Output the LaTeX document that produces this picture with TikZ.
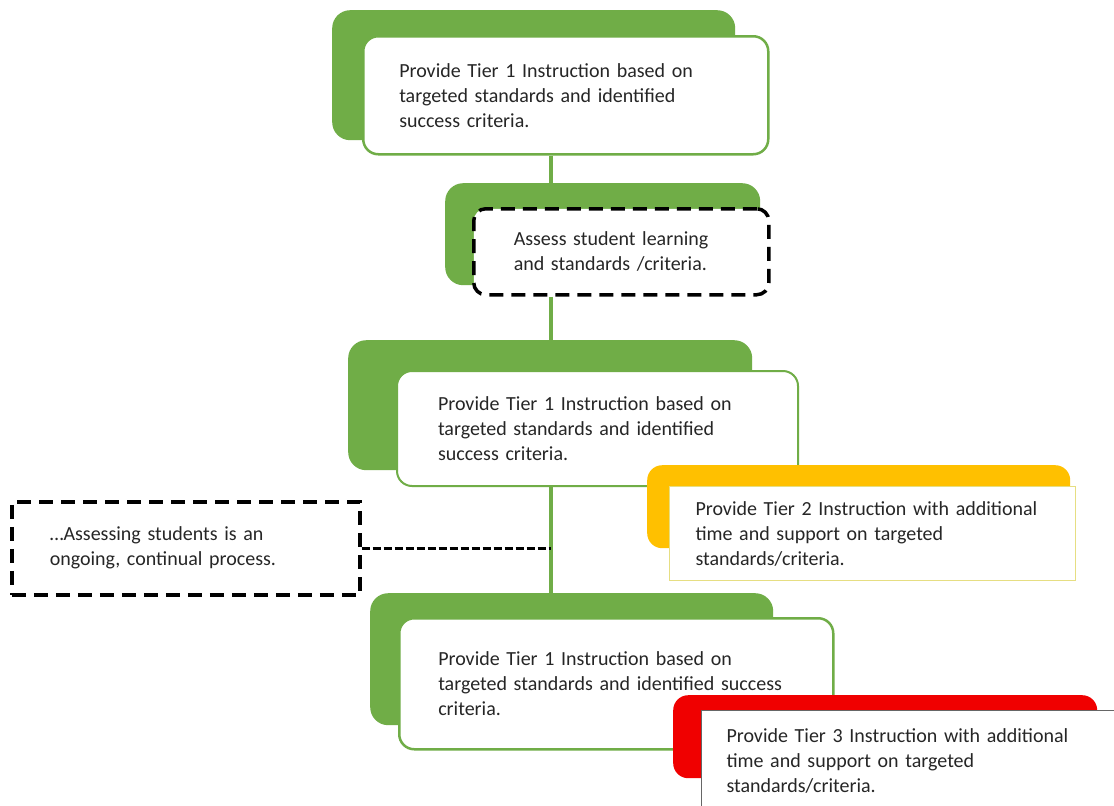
\documentclass[tikz,border=0pt]{standalone}
\usepackage{fontspec}
\setmainfont{Carlito}
\usetikzlibrary{backgrounds}
\definecolor{tgreen}{RGB}{112,173,71}
\definecolor{tyellow}{RGB}{255,192,0}
\definecolor{tred}{RGB}{240,0,0}
\definecolor{tpale}{RGB}{230,222,130}
\def\tieronetext{Provide Tier 1 Instruction based on\\targeted standards and identified\\success criteria.}

\begin{document}
\begin{tikzpicture}[x=1pt,y=-1pt,
    back/.style={anchor=north west,inner sep=0pt,rounded corners=18pt,fill=tgreen},
    front/.style={anchor=north west,inner ysep=0pt,fill=white,align=left,
      font=\fontsize{20}{25}\selectfont,text=black!85},
    tierone/.style={front,draw=tgreen,line width=2.5pt,rounded corners=15pt},
    dashbox/.style={front,draw=black,line width=3.5pt,dash pattern=on 14pt off 8pt},
    spine/.style={draw=tgreen,line width=4pt}]
  \useasboundingbox (0,0) rectangle (1114,806);
  \node[back,minimum width=403pt,minimum height=130pt] (b1) at (332,10) {};
  \node[tierone,text width=333pt,inner xsep=36pt,minimum height=118pt] (t1) at (362,35) {\tieronetext};
  \node[back,minimum width=315pt,minimum height=102pt] (b2) at (445,183) {};
  \node[dashbox,rounded corners=12pt,text width=215pt,inner xsep=40pt,minimum height=86pt] (as) at (472,207)
    {Assess student learning\\and standards /criteria.};
  \node[back,minimum width=404pt,minimum height=130pt] (b3) at (348,340) {};
  \node[tierone,line width=2pt,text width=319pt,inner xsep=41pt,minimum height=115pt] (t3) at (396,370) {\tieronetext};
  \node[back,fill=tyellow,rounded corners=15pt,minimum width=423pt,minimum height=83pt] (b4) at (647,465) {};
  \node[front,draw=tpale,line width=1pt,text width=354pt,inner xsep=26pt,minimum height=94pt] (t4) at (669,486)
    {Provide Tier 2 Instruction with additional\\time and support on targeted\\standards/criteria.};
  \node[back,minimum width=403pt,minimum height=132pt] (b5) at (370,593) {};
  \node[tierone,text width=356pt,inner xsep=39pt,minimum height=131pt] (t5) at (398,617)
    {Provide Tier 1 Instruction based on\\targeted standards and identified success\\criteria.\\[-10pt]};
  \node[back,fill=tred,rounded corners=15pt,minimum width=424pt,minimum height=83pt] (b6) at (673,695) {};
  \node[front,draw=black!60,line width=1pt,text width=390pt,inner xsep=25pt,minimum height=100pt] (t6) at (701,710)
    {Provide Tier 3 Instruction with additional\\time and support on targeted\\standards/criteria.};
  \node[dashbox,text width=272pt,inner xsep=38pt,minimum height=93pt] (ongo) at (10,500)
    {\dots Assessing students is an\\ongoing, continual process.};
  \begin{scope}[on background layer]
    \fill[white] (0,0) rectangle (1114,806);
    \coordinate (sp) at (551,0);
    \draw[spine] (t1.south -| sp) -- (b2.north -| sp);
    \draw[spine] (as.south -| sp) -- (b3.north -| sp);
    \draw[spine] (t3.south -| sp) -- (b5.north -| sp);
    \draw[black,line width=3.5pt,dash pattern=on 8pt off 3pt] (ongo.east) -- (ongo.east -| sp);
  \end{scope}
\end{tikzpicture}
\end{document}
